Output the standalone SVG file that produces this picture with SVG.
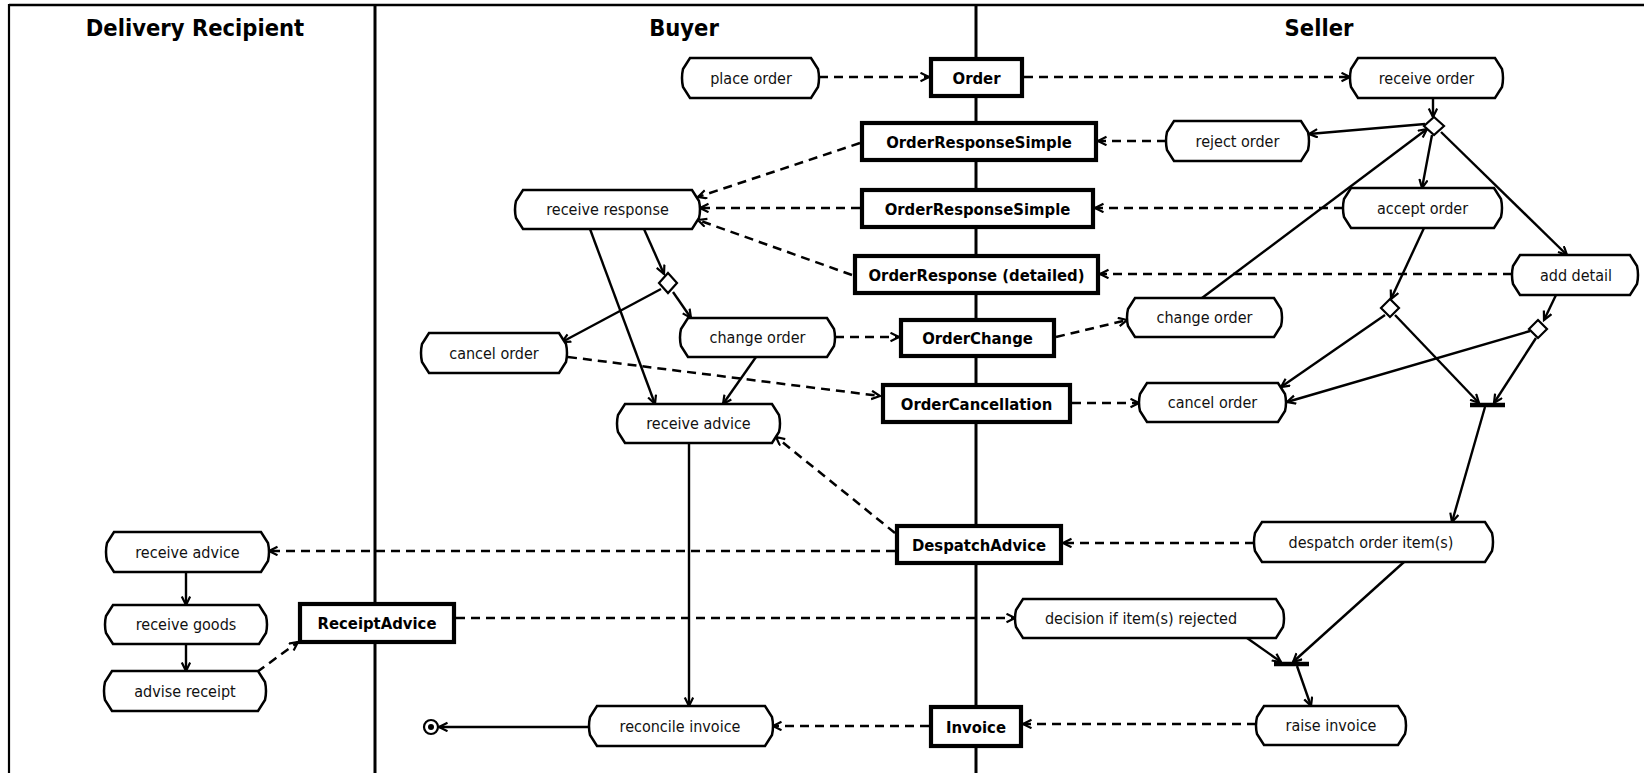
<svg xmlns="http://www.w3.org/2000/svg" width="1644" height="773" viewBox="0 0 1644 773">
<style>
.lane{stroke:#000;fill:none}
.title{font-family:"DejaVu Sans Condensed","DejaVu Sans",sans-serif;font-stretch:condensed;font-weight:bold;font-size:23.5px;text-anchor:middle;fill:#000}
.act{fill:#fff;stroke:#000;stroke-width:2.5}
.lbl{font-family:"DejaVu Sans Condensed","DejaVu Sans",sans-serif;font-stretch:condensed;font-size:16px;text-anchor:middle;fill:#111}
.msg{fill:#fff;stroke:#000;stroke-width:4.2}
.mlbl{font-family:"DejaVu Sans Condensed","DejaVu Sans",sans-serif;font-stretch:condensed;font-weight:bold;font-size:16.5px;text-anchor:middle;fill:#000}
.flow{stroke:#000;stroke-width:2.4;fill:none;marker-end:url(#arr)}
.obj{stroke:#000;stroke-width:2.5;fill:none;stroke-dasharray:9 6;marker-end:url(#arr)}
.dia{fill:#fff;stroke:#000;stroke-width:2.2}
.bar{stroke:#000;stroke-width:4.5}
</style>
<defs>
<marker id="arr" markerWidth="12" markerHeight="12" refX="9" refY="5" orient="auto" markerUnits="userSpaceOnUse">
<path d="M0.5,0.8 L9,5 L0.5,9.2" fill="none" stroke="#000" stroke-width="2.2" stroke-dasharray="none"/>
</marker>
</defs>
<rect width="1644" height="773" fill="#fff"/>
<g id="lanes">
<line class="lane" x1="9" y1="5" x2="1644" y2="5" stroke-width="2.5"/>
<line class="lane" x1="9" y1="4" x2="9" y2="773" stroke-width="2.2"/>
<line class="lane" x1="375" y1="5" x2="375" y2="773" stroke-width="3"/>
<line class="lane" x1="976" y1="5" x2="976" y2="773" stroke-width="3"/>
<text class="title" x="195" y="36">Delivery Recipient</text>
<text class="title" x="684" y="36">Buyer</text>
<text class="title" x="1319" y="36">Seller</text>
</g>
<g id="connectors">
<line class="obj" x1="819" y1="77" x2="929" y2="77"/>
<line class="obj" x1="1024" y1="77" x2="1350" y2="77"/>
<line class="obj" x1="1166" y1="141" x2="1098" y2="141"/>
<line class="obj" x1="860" y1="143" x2="698" y2="197"/>
<line class="obj" x1="1343" y1="208" x2="1095" y2="208"/>
<line class="obj" x1="860" y1="208" x2="700" y2="208"/>
<line class="obj" x1="1512" y1="274" x2="1100" y2="274"/>
<line class="obj" x1="852" y1="275" x2="698" y2="220"/>
<line class="obj" x1="835" y1="337" x2="899" y2="337"/>
<line class="obj" x1="1056" y1="337" x2="1127" y2="320"/>
<line class="obj" x1="568" y1="357" x2="880" y2="396"/>
<line class="obj" x1="1072" y1="403" x2="1139" y2="403"/>
<line class="obj" x1="1254" y1="543" x2="1063" y2="543"/>
<line class="obj" x1="895" y1="533" x2="776" y2="437"/>
<line class="obj" x1="895" y1="551" x2="269" y2="551"/>
<line class="obj" x1="257" y1="672" x2="298" y2="642"/>
<line class="obj" x1="456" y1="618" x2="1015" y2="618"/>
<line class="obj" x1="1256" y1="724" x2="1023" y2="724"/>
<line class="obj" x1="929" y1="726" x2="773" y2="726"/>
<line class="flow" x1="1433" y1="98" x2="1433" y2="117"/>
<line class="flow" x1="1425" y1="124" x2="1309" y2="134"/>
<line class="flow" x1="1432" y1="135" x2="1422" y2="188"/>
<line class="flow" x1="1441" y1="132" x2="1567" y2="255"/>
<line class="flow" x1="1202" y1="298" x2="1427" y2="129"/>
<line class="flow" x1="1424" y1="228" x2="1391" y2="299"/>
<line class="flow" x1="1556" y1="295" x2="1544" y2="320"/>
<line class="flow" x1="1385" y1="315" x2="1281" y2="387"/>
<line class="flow" x1="1395" y1="315" x2="1479" y2="403"/>
<line class="flow" x1="1530" y1="331" x2="1287" y2="402"/>
<line class="flow" x1="1536" y1="338" x2="1494" y2="403"/>
<line class="flow" x1="1485" y1="407" x2="1452" y2="522"/>
<line class="flow" x1="1404" y1="562" x2="1293" y2="662"/>
<line class="flow" x1="1247" y1="638" x2="1281" y2="662"/>
<line class="flow" x1="1297" y1="666" x2="1311" y2="706"/>
<line class="flow" x1="644" y1="229" x2="664" y2="274"/>
<line class="flow" x1="590" y1="229" x2="655" y2="404"/>
<line class="flow" x1="661" y1="289" x2="562" y2="342"/>
<line class="flow" x1="673" y1="292" x2="691" y2="318"/>
<line class="flow" x1="756" y1="357" x2="723" y2="404"/>
<line class="flow" x1="689" y1="443" x2="689" y2="706"/>
<line class="flow" x1="589" y1="727" x2="439" y2="727"/>
<line class="flow" x1="186" y1="572" x2="186" y2="605"/>
<line class="flow" x1="186" y1="644" x2="186" y2="671"/>
</g>
<g id="d-buyer"><path class="dia" d="M668,273 L677,283 L668,293 L659,283 Z"/></g>
<g id="d-receive"><path class="dia" d="M1434,117 L1444,126 L1434,135 L1424,126 Z"/></g>
<g id="d-accept"><path class="dia" d="M1390,299 L1399,308 L1390,317 L1381,308 Z"/></g>
<g id="d-detail"><path class="dia" d="M1538,320 L1547,329 L1538,338 L1529,329 Z"/></g>
<g id="join1"><line class="bar" x1="1470" y1="405" x2="1505" y2="405"/></g>
<g id="join2"><line class="bar" x1="1274" y1="664" x2="1309" y2="664"/></g>
<g id="end"><circle cx="431" cy="727" r="7" fill="#fff" stroke="#000" stroke-width="2.2"/><circle cx="431" cy="727" r="3" fill="#000"/></g>
<g id="place-order"><path class="act" d="M690,58 H811 L818,69 Q820,78 818,87 L811,98 H690 L683,87 Q681,78 683,69 Z"/><text class="lbl" x="751" y="83.5">place order</text></g>
<g id="receive-response"><path class="act" d="M523,190 H692 L699,201 Q701,209.5 699,218 L692,229 H523 L516,218 Q514,209.5 516,201 Z"/><text class="lbl" x="607.5" y="215">receive response</text></g>
<g id="change-order-buyer"><path class="act" d="M688,318 H827 L834,329 Q836,337.5 834,346 L827,357 H688 L681,346 Q679,337.5 681,329 Z"/><text class="lbl" x="757.5" y="343">change order</text></g>
<g id="cancel-order-buyer"><path class="act" d="M429,333 H559 L566,344 Q568,353 566,362 L559,373 H429 L422,362 Q420,353 422,344 Z"/><text class="lbl" x="494" y="358.5">cancel order</text></g>
<g id="receive-advice-buyer"><path class="act" d="M625,404 H772 L779,415 Q781,423.5 779,432 L772,443 H625 L618,432 Q616,423.5 618,415 Z"/><text class="lbl" x="698.5" y="429">receive advice</text></g>
<g id="reconcile-invoice"><path class="act" d="M597,706 H765 L772,717 Q774,726 772,735 L765,746 H597 L590,735 Q588,726 590,717 Z"/><text class="lbl" x="680" y="731.5">reconcile invoice</text></g>
<g id="receive-advice-dr"><path class="act" d="M114,532 H261 L268,543 Q270,552 268,561 L261,572 H114 L107,561 Q105,552 107,543 Z"/><text class="lbl" x="187.5" y="557.5">receive advice</text></g>
<g id="receive-goods"><path class="act" d="M113,605 H259 L266,616 Q268,624.5 266,633 L259,644 H113 L106,633 Q104,624.5 106,616 Z"/><text class="lbl" x="186" y="630">receive goods</text></g>
<g id="advise-receipt"><path class="act" d="M112,671 H258 L265,682 Q267,691 265,700 L258,711 H112 L105,700 Q103,691 105,682 Z"/><text class="lbl" x="185" y="696.5">advise receipt</text></g>
<g id="receive-order"><path class="act" d="M1358,58 H1495 L1502,69 Q1504,78 1502,87 L1495,98 H1358 L1351,87 Q1349,78 1351,69 Z"/><text class="lbl" x="1426.5" y="83.5">receive order</text></g>
<g id="reject-order"><path class="act" d="M1174,121 H1301 L1308,132 Q1310,141 1308,150 L1301,161 H1174 L1167,150 Q1165,141 1167,132 Z"/><text class="lbl" x="1237.5" y="146.5">reject order</text></g>
<g id="accept-order"><path class="act" d="M1351,188 H1494 L1501,199 Q1503,208 1501,217 L1494,228 H1351 L1344,217 Q1342,208 1344,199 Z"/><text class="lbl" x="1422.5" y="213.5">accept order</text></g>
<g id="add-detail"><path class="act" d="M1520,255 H1630 L1637,266 Q1639,275 1637,284 L1630,295 H1520 L1513,284 Q1511,275 1513,266 Z"/><text class="lbl" x="1576" y="280.5">add detail</text></g>
<g id="change-order-seller"><path class="act" d="M1135,298 H1274 L1281,309 Q1283,317.5 1281,326 L1274,337 H1135 L1128,326 Q1126,317.5 1128,309 Z"/><text class="lbl" x="1204.5" y="323">change order</text></g>
<g id="cancel-order-seller"><path class="act" d="M1147,383 H1278 L1285,394 Q1287,402.5 1285,411 L1278,422 H1147 L1140,411 Q1138,402.5 1140,394 Z"/><text class="lbl" x="1212.5" y="408">cancel order</text></g>
<g id="despatch-items"><path class="act" d="M1262,522 H1485 L1492,533 Q1494,542 1492,551 L1485,562 H1262 L1255,551 Q1253,542 1255,533 Z"/><text class="lbl" x="1371" y="547.5">despatch order item(s)</text></g>
<g id="decision"><path class="act" d="M1023,599 H1276 L1283,610 Q1285,618.5 1283,627 L1276,638 H1023 L1016,627 Q1014,618.5 1016,610 Z"/><text class="lbl" x="1141" y="624">decision if item(s) rejected</text></g>
<g id="raise-invoice"><path class="act" d="M1264,706 H1398 L1405,717 Q1407,725.5 1405,734 L1398,745 H1264 L1257,734 Q1255,725.5 1257,717 Z"/><text class="lbl" x="1331" y="731">raise invoice</text></g>
<g id="msg-order"><rect class="msg" x="931" y="59" width="91" height="37"/><text class="mlbl" x="976.5" y="83.5">Order</text></g>
<g id="msg-ors1"><rect class="msg" x="862" y="123" width="234" height="37"/><text class="mlbl" x="979" y="147.5">OrderResponseSimple</text></g>
<g id="msg-ors2"><rect class="msg" x="862" y="190" width="231" height="37"/><text class="mlbl" x="977.5" y="214.5">OrderResponseSimple</text></g>
<g id="msg-ord"><rect class="msg" x="855" y="256" width="243" height="37"/><text class="mlbl" x="976.5" y="280.5">OrderResponse (detailed)</text></g>
<g id="msg-change"><rect class="msg" x="901" y="320" width="153" height="36"/><text class="mlbl" x="977.5" y="344">OrderChange</text></g>
<g id="msg-cancel"><rect class="msg" x="883" y="385" width="187" height="37"/><text class="mlbl" x="976.5" y="409.5">OrderCancellation</text></g>
<g id="msg-despatch"><rect class="msg" x="897" y="526" width="164" height="37"/><text class="mlbl" x="979" y="550.5">DespatchAdvice</text></g>
<g id="msg-invoice"><rect class="msg" x="931" y="707" width="90" height="39"/><text class="mlbl" x="976" y="732.5">Invoice</text></g>
<g id="msg-receipt"><rect class="msg" x="300" y="604" width="154" height="38"/><text class="mlbl" x="377" y="629">ReceiptAdvice</text></g>
</svg>
